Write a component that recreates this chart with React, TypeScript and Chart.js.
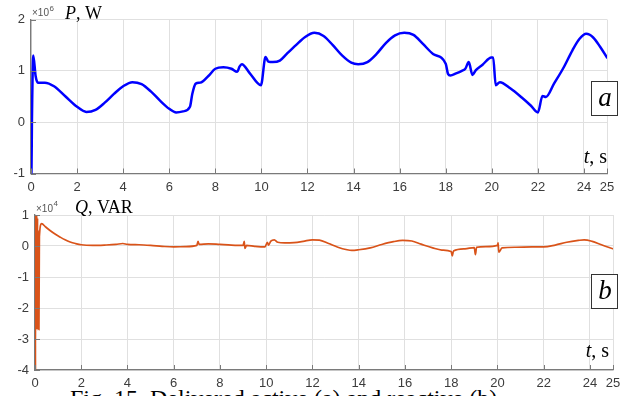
import React, { useEffect, useRef } from "react";
import { Chart, registerables } from "chart.js";

Chart.register(...registerables);

// ---------- data ----------
const xTickValues = [0, 2, 4, 6, 8, 10, 12, 14, 16, 18, 20, 22, 24, 25];
const pYTickValues = [-1, 0, 1, 2];
const qYTickValues = [-4, -3, -2, -1, 0, 1];

// Active power P (×10^6 W)
const pTime = [
  0, 0.02, 0.04, 0.1, 0.2, 0.3, 0.6, 1.0, 1.5, 2.0, 2.4, 2.8, 3.2, 3.6, 4.0, 4.4, 4.8, 5.2, 5.6, 6.0,
  6.3, 6.6, 6.9, 7.0, 7.15, 7.35, 7.7, 8.0, 8.35, 8.7, 8.95, 9.05, 9.15, 9.5, 9.98, 10.18, 10.3,
  10.5, 10.8, 11.1, 11.5, 11.9, 12.3, 12.7, 13.1, 13.5, 13.9, 14.2, 14.6, 15.0, 15.4, 15.8, 16.2,
  16.6, 17.0, 17.45, 18.0, 18.1, 18.2, 18.45, 18.7, 18.85, 19.0, 19.16, 19.3, 19.6, 19.98, 20.06,
  20.17, 20.35, 20.8, 21.3, 21.7, 22.0, 22.2, 22.35, 22.7, 23.1, 23.5, 23.8, 24.1, 24.4, 24.7, 25.0,
];
const pValue = [
  0, -1, 0, 1.3, 0.9, 0.77, 0.77, 0.7, 0.5, 0.3, 0.2, 0.24, 0.38, 0.55, 0.7, 0.78, 0.74, 0.6, 0.42,
  0.26, 0.19, 0.21, 0.3, 0.55, 0.75, 0.77, 0.9, 1.04, 1.07, 1.04, 0.98, 1.08, 1.13, 0.95, 0.72, 1.27,
  1.18, 1.17, 1.2, 1.33, 1.5, 1.66, 1.74, 1.68, 1.5, 1.3, 1.16, 1.13, 1.17, 1.33, 1.54, 1.69, 1.74,
  1.7, 1.53, 1.33, 1.14, 0.94, 0.91, 0.95, 1.0, 1.04, 1.17, 0.92, 1.01, 1.12, 1.26, 1.26, 0.72, 0.78,
  0.66, 0.48, 0.32, 0.19, 0.51, 0.49, 0.75, 1.05, 1.4, 1.62, 1.72, 1.65, 1.47, 1.26,
];

// Reactive power Q (×10^4 VAR)
const qTime = [
  0, 0.01, 0.02, 0.03, 0.05, 0.07, 0.09, 0.11, 0.13, 0.15, 0.17, 0.19, 0.29, 0.45, 0.65, 0.9, 1.08,
  1.3, 1.52, 1.75, 2.0, 2.5, 3.0, 3.5, 3.8, 4.0, 4.5, 5.0, 5.5, 6.0, 6.5, 7.0, 7.05, 7.1, 7.5, 8.0,
  8.5, 9.0, 9.05, 9.08, 9.15, 9.5, 9.95, 10.05, 10.1, 10.2, 10.35, 10.5, 10.8, 11.2, 11.6, 12.0, 12.3,
  12.7, 13.1, 13.5, 13.7, 14.0, 14.5, 15.0, 15.5, 15.9, 16.3, 16.7, 17.2, 17.6, 18.0, 18.05, 18.1,
  18.6, 19.0, 19.05, 19.1, 19.5, 20.0, 20.03, 20.06, 20.2, 20.8, 21.5, 22.0, 22.5, 23.0, 23.5, 23.75,
  24.1, 24.5, 25.0,
];
const qValue = [
  0, 1, -4, 1, -2.7, 1, -2.7, 0.9, -2.7, 0.5, -2.7, 0.3, 0.72, 0.62, 0.5, 0.37, 0.29, 0.2, 0.13,
  0.08, 0.04, 0.02, 0.03, 0.05, 0.08, 0.05, 0.04, 0.02, -0.01, -0.03, -0.02, 0.02, 0.15, 0.05, 0.07,
  0.05, 0.03, 0.02, 0.15, -0.08, 0.02, -0.01, -0.03, 0.12, 0.03, 0.16, 0.2, 0.12, 0.1, 0.11, 0.15,
  0.2, 0.19, 0.08, -0.04, -0.12, -0.14, -0.12, -0.06, 0.05, 0.14, 0.18, 0.16, 0.06, -0.06, -0.13,
  -0.18, -0.32, -0.16, -0.09, -0.05, -0.28, -0.04, -0.02, 0.02, 0.1, -0.2, -0.06, -0.04, -0.03,
  -0.03, 0.03, 0.12, 0.18, 0.2, 0.15, 0.04, -0.09,
];

const captionText = "Fig. 15. Delivered active (a) and reactive (b)";

// ---------- helpers ----------
const AXIS_COLOR = "#7a7a7a";
const GRID_COLOR = "#e0e0e0";
const TICK_COLOR = "#3c3c3c";
const SERIF = '"Liberation Serif", "Times New Roman", serif';
const SANS = '"Liberation Sans", Arial, sans-serif';

type OverlayCfg = {
  exponent: string;
  expX: number;
  expY: number;
  symbol: string;
  unit: string;
  symX: number;
  symY: number;
  tsDx: number;
  tsDy: number;
  letter: string;
  boxX: number;
  boxTop: number;
};

function overlayPlugin(o: OverlayCfg) {
  return {
    id: "overlay",
    afterDraw(chart: any) {
      const ctx = chart.ctx as CanvasRenderingContext2D;
      const { left, right, bottom } = chart.chartArea;
      const xs = chart.scales.x;
      const ys = chart.scales.y;
      ctx.save();
      // inner tick marks
      ctx.strokeStyle = AXIS_COLOR;
      ctx.lineWidth = 1;
      ctx.beginPath();
      xs.ticks.forEach((t: any) => {
        const px = Math.round(xs.getPixelForValue(t.value)) + 0.5;
        ctx.moveTo(px, bottom);
        ctx.lineTo(px, bottom - 5);
      });
      ys.ticks.forEach((t: any) => {
        const py = Math.round(ys.getPixelForValue(t.value)) + 0.5;
        ctx.moveTo(left, py);
        ctx.lineTo(left + 5, py);
      });
      ctx.stroke();

      // exponent ×10^n
      ctx.fillStyle = "#555";
      ctx.textBaseline = "alphabetic";
      ctx.textAlign = "left";
      ctx.font = `10px ${SANS}`;
      ctx.fillText("×10", o.expX, o.expY);
      const w = ctx.measureText("×10").width;
      ctx.font = `8px ${SANS}`;
      ctx.fillText(o.exponent, o.expX + w + 0.5, o.expY - 5.5);

      // symbol, unit
      ctx.fillStyle = "#000";
      ctx.font = `italic 18px ${SERIF}`;
      ctx.fillText(o.symbol, o.symX, o.symY);
      const sw = ctx.measureText(o.symbol).width;
      ctx.font = `18px ${SERIF}`;
      ctx.fillText(", " + o.unit, o.symX + sw, o.symY);

      // t, s
      ctx.font = `20px ${SERIF}`;
      const rest = ", s";
      const rw = ctx.measureText(rest).width;
      ctx.font = `italic 20px ${SERIF}`;
      const tw = ctx.measureText("t").width;
      const tx = right + o.tsDx - rw - tw;
      const ty = bottom - o.tsDy;
      ctx.fillText("t", tx, ty);
      ctx.font = `20px ${SERIF}`;
      ctx.fillText(rest, tx + tw, ty);

      // boxed letter
      const bw = 26;
      const bh = 34;
      ctx.fillStyle = "#fff";
      ctx.fillRect(o.boxX, o.boxTop, bw, bh);
      ctx.strokeStyle = "#333";
      ctx.lineWidth = 1;
      ctx.strokeRect(o.boxX + 0.5, o.boxTop + 0.5, bw, bh);
      ctx.fillStyle = "#000";
      ctx.font = `italic 27px ${SERIF}`;
      ctx.textAlign = "center";
      ctx.fillText(o.letter, o.boxX + bw / 2 + 1, o.boxTop + 25);
      ctx.restore();
    },
  };
}

function makeConfig(
  times: number[],
  values: number[],
  yTicks: number[],
  color: string,
  lineWidth: number,
  pad: { left: number; right: number; top: number },
  yWidth: number,
  xHeight: number,
  overlay: OverlayCfg
): any {
  return {
    type: "line",
    data: {
      datasets: [
        {
          data: times.map((t, i) => ({ x: t, y: values[i] })),
          borderColor: color,
          borderWidth: lineWidth,
          pointRadius: 0,
          cubicInterpolationMode: "monotone",
          borderJoinStyle: "round",
          borderCapStyle: "round",
          fill: false,
        },
      ],
    },
    options: {
      animation: false,
      responsive: false,
      events: [],
      layout: { padding: { left: pad.left, right: pad.right, top: pad.top, bottom: 0 } },
      plugins: { legend: { display: false }, tooltip: { enabled: false }, title: { display: false } },
      scales: {
        x: {
          type: "linear",
          min: 0,
          max: 25,
          afterBuildTicks: (s: any) => {
            s.ticks = xTickValues.map((v) => ({ value: v }));
          },
          afterFit: (s: any) => {
            s.height = xHeight;
          },
          grid: { color: GRID_COLOR, drawTicks: false, lineWidth: 1 },
          border: { display: true, color: AXIS_COLOR, width: 1.3 },
          ticks: {
            autoSkip: false,
            maxRotation: 0,
            padding: 6,
            color: TICK_COLOR,
            font: { family: SANS, size: 13 },
            callback: (v: any) => String(v),
          },
        },
        y: {
          type: "linear",
          min: yTicks[0],
          max: yTicks[yTicks.length - 1],
          afterBuildTicks: (s: any) => {
            s.ticks = yTicks.map((v) => ({ value: v }));
          },
          afterFit: (s: any) => {
            s.width = yWidth;
          },
          grid: { color: GRID_COLOR, drawTicks: false, lineWidth: 1 },
          border: { display: true, color: AXIS_COLOR, width: 1.3 },
          ticks: {
            padding: 6,
            color: TICK_COLOR,
            font: { family: SANS, size: 13 },
            callback: (v: any) => String(v),
          },
        },
      },
    },
    plugins: [overlayPlugin(overlay)],
  };
}

function ChartCanvas({ config, width, height }: { config: () => any; width: number; height: number }) {
  const ref = useRef<HTMLCanvasElement | null>(null);
  useEffect(() => {
    if (!ref.current) return;
    const chart = new Chart(ref.current, config());
    return () => chart.destroy();
  }, []);
  return <canvas ref={ref} width={width} height={height} style={{ width, height, display: "block" }} />;
}

export default function App() {
  return (
    <div
      style={{
        position: "fixed",
        left: 0,
        top: 0,
        width: 630,
        height: 396,
        overflow: "hidden",
        background: "#fff",
      }}
    >
      <div
        style={{
          position: "absolute",
          left: 70,
          top: 384,
          fontFamily: SERIF,
          fontSize: 24,
          lineHeight: "28px",
          whiteSpace: "nowrap",
          color: "#000",
        }}
      >
        {captionText}
      </div>
      <div style={{ position: "absolute", left: 0, top: 0 }}>
        <ChartCanvas
          width={630}
          height={195}
          config={() =>
            makeConfig(pTime, pValue, pYTickValues, "#0000ff", 2.5, { left: 0, right: 23, top: 19.5 }, 31, 21.5, {
              exponent: "6",
              expX: 32,
              expY: 16,
              symbol: "P",
              unit: "W",
              symX: 65,
              symY: 19,
              tsDx: 0,
              tsDy: 10.5,
              letter: "a",
              boxX: 591,
              boxTop: 81,
            })
          }
        />
      </div>
      <div style={{ position: "absolute", left: 0, top: 195 }}>
        <ChartCanvas
          width={630}
          height={201}
          config={() =>
            makeConfig(qTime, qValue, qYTickValues, "#d95319", 1.7, { left: 0, right: 17, top: 20 }, 35, 26, {
              exponent: "4",
              expX: 36,
              expY: 16.5,
              symbol: "Q",
              unit: "VAR",
              symX: 75,
              symY: 18.3,
              tsDx: -4,
              tsDy: 13,
              letter: "b",
              boxX: 591,
              boxTop: 79,
            })
          }
        />
      </div>
    </div>
  );
}
